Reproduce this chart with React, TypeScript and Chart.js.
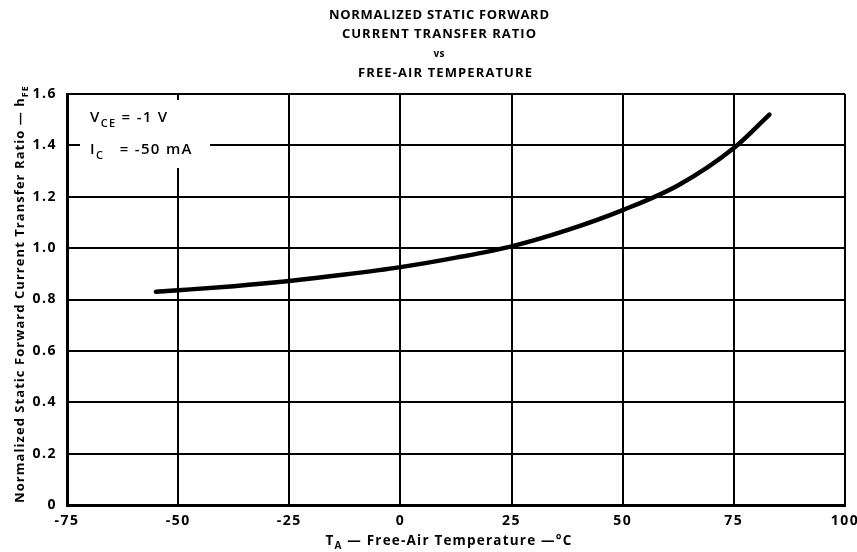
import React, { useEffect, useRef } from "react";
import { Chart, registerables } from "chart.js";

Chart.register(...registerables);

const temperatures = [-55, -50, -37.5, -25, -12.5, 0, 12.5, 25, 37.5, 50, 62.5, 75, 83];
const hfeRatio = [0.83, 0.836, 0.852, 0.872, 0.897, 0.926, 0.963, 1.007, 1.07, 1.148, 1.245, 1.39, 1.52];
const titleLines = ["NORMALIZED STATIC FORWARD", "CURRENT TRANSFER RATIO", "vs", "FREE-AIR TEMPERATURE"];
const xTitleParts = ["T", "A", " — Free-Air Temperature —°C"];
const yTitleParts = ["Normalized Static Forward Current Transfer Ratio — h", "FE", ""];
const noteLines = [
  ["V", "CE", " = -1 V"],
  ["I", "C", "   = -50 mA"],
];

const FONT = "'Open Sans', 'DejaVu Sans', sans-serif";

function drawSub(
  ctx: CanvasRenderingContext2D,
  x: number,
  y: number,
  parts: string[],
  size: number,
  weight: string,
  align: "left" | "center",
  spacing: number
) {
  (ctx as any).letterSpacing = `${spacing}px`;
  const main = `${weight} ${size}px ${FONT}`;
  const sub = `${weight} ${Math.round(size * 0.72)}px ${FONT}`;
  ctx.font = main;
  const w0 = ctx.measureText(parts[0]).width;
  ctx.font = sub;
  const w1 = ctx.measureText(parts[1]).width;
  ctx.font = main;
  const w2 = parts[2] ? ctx.measureText(parts[2]).width : 0;
  const total = w0 + w1 + w2;
  let cx = align === "center" ? x - total / 2 : x;
  ctx.textAlign = "left";
  ctx.textBaseline = "alphabetic";
  ctx.font = main;
  ctx.fillText(parts[0], cx, y);
  cx += w0;
  ctx.font = sub;
  ctx.fillText(parts[1], cx, y + size * 0.3);
  cx += w1;
  if (parts[2]) {
    ctx.font = main;
    ctx.fillText(parts[2], cx, y);
  }
}

function fitCentered(ctx: CanvasRenderingContext2D, text: string, x: number, y: number, size: number, target: number) {
  (ctx as any).letterSpacing = "0px";
  ctx.font = `700 ${size}px ${FONT}`;
  const w = ctx.measureText(text).width;
  const sp = Math.max(0, (target - w) / Math.max(1, text.length - 1));
  (ctx as any).letterSpacing = `${sp}px`;
  ctx.textAlign = "left";
  ctx.textBaseline = "middle";
  ctx.fillText(text, x - target / 2, y);
}

const boxPlugin = {
  id: "noteBox",
  beforeDraw(chart: any) {
    (chart.ctx as any).letterSpacing = "1.5px";
  },
  beforeDatasetsDraw(chart: any) {
    const ctx = chart.ctx as CanvasRenderingContext2D;
    ctx.save();
    ctx.fillStyle = "#ffffff";
    ctx.fillRect(80, 100, 130, 68);
    ctx.fillStyle = "#000";
    drawSub(ctx, 90, 122, noteLines[0], 15, "600", "left", 1.3);
    drawSub(ctx, 90, 154, noteLines[1], 15, "600", "left", 1.3);
    ctx.restore();
  },
  afterDraw(chart: any) {
    const ctx = chart.ctx as CanvasRenderingContext2D;
    ctx.save();
    ctx.fillStyle = "#000";
    fitCentered(ctx, titleLines[0], 439, 15, 13, 220);
    fitCentered(ctx, titleLines[1], 439, 34, 13, 194);
    fitCentered(ctx, titleLines[2], 439, 54, 10, 11);
    fitCentered(ctx, titleLines[3], 445, 73, 13, 174);
    drawSub(ctx, 449, 545, xTitleParts, 13.5, "700", "center", 1.2);
    ctx.translate(24, 294);
    ctx.rotate(-Math.PI / 2);
    drawSub(ctx, 0, 0, yTitleParts, 13, "700", "center", 1.05);
    ctx.restore();
  },
};

export default function App() {
  const ref = useRef<HTMLCanvasElement | null>(null);
  useEffect(() => {
    document.body.style.margin = "0";
    const canvas = ref.current!;
    const chart = new Chart(canvas, {
      type: "line",
      data: {
        datasets: [
          {
            data: temperatures.map((t, i) => ({ x: t, y: hfeRatio[i] })),
            borderColor: "#000",
            borderWidth: 4.5,
            pointRadius: 0,
            cubicInterpolationMode: "monotone",
            fill: false,
            borderCapStyle: "round",
          },
        ],
      },
      options: {
        animation: false,
        responsive: false,
        maintainAspectRatio: false,
        layout: { padding: { top: 94, right: 12, left: 0, bottom: 0 } },
        plugins: { legend: { display: false }, tooltip: { enabled: false }, title: { display: false } },
        scales: {
          x: {
            type: "linear",
            min: -75,
            max: 100,
            afterFit: (s: any) => {
              s.height = 47;
              s.paddingRight = 0;
              s.paddingLeft = 0;
            },
            ticks: {
              stepSize: 25,
              color: "#000",
              padding: 8,
              maxRotation: 0,
              autoSkip: false,
              font: { family: FONT, size: 14, weight: "700" },
            },
            grid: { color: "#000", lineWidth: 2, drawTicks: false },
            border: { color: "#000", width: 3 },
          },
          y: {
            min: 0,
            max: 1.6,
            afterFit: (s: any) => {
              s.width = 67;
            },
            ticks: {
              stepSize: 0.2,
              color: "#000",
              padding: 10,
              autoSkip: false,
              font: { family: FONT, size: 14, weight: "700" },
              callback: (v: any) => (Number(v) === 0 ? "0" : Number(v).toFixed(1)),
            },
            grid: { color: "#000", lineWidth: 2, drawTicks: false },
            border: { color: "#000", width: 3 },
          },
        },
      },
      plugins: [boxPlugin],
    } as any);
    return () => chart.destroy();
  }, []);
  return <canvas ref={ref} width={857} height={552} style={{ display: "block" }} />;
}
